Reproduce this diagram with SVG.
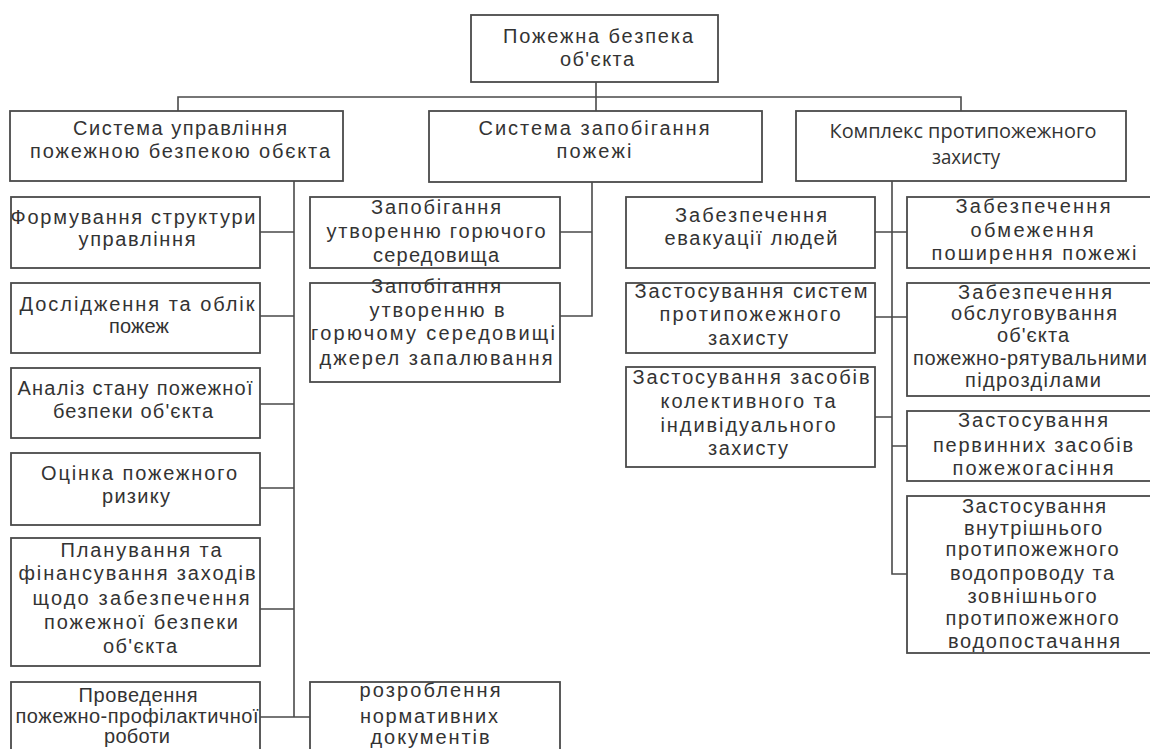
<svg xmlns="http://www.w3.org/2000/svg" width="1150" height="749" viewBox="0 0 1150 749">
  <style>
    .box { fill: #ffffff; stroke: #4a4a4a; stroke-width: 1.8; }
    .wire { fill: none; stroke: #4a4a4a; stroke-width: 1.6; }
    .t { font-family: "Liberation Sans", Arial, sans-serif; font-size: 20px; fill: #333333; text-anchor: middle; }
    .c { font-family: "Open Sans", "Liberation Sans", sans-serif; font-size: 20px; fill: #333333; text-anchor: middle; }
  </style>
  <rect width="1150" height="749" fill="#ffffff"/>

  <!-- connectors -->
  <g id="connectors" class="wire">
    <path d="M596 82 V111"/>
    <path d="M178 111 V97 H961 V111"/>
    <!-- management branch -->
    <path d="M294 181 V717"/>
    <path d="M260 232 H294 M260 316 H294 M260 404 H294 M260 488 H294 M260 609 H294 M260 717 H310"/>
    <!-- prevention branch -->
    <path d="M592 182 V316 H560 M560 232 H592"/>
    <!-- protection branch -->
    <path d="M892 181 V574 H907"/>
    <path d="M875 232 H907 M875 317 H907 M875 417 H892 M892 446 H907"/>
  </g>

  <g id="root">
    <rect class="box" x="471" y="15" width="247" height="67"/>
    <text class="t" x="598" y="43" textLength="190" lengthAdjust="spacing">Пожежна безпека</text>
    <text class="t" x="597" y="66" textLength="74" lengthAdjust="spacing">об'єкта</text>
  </g>

  <g id="management">
    <rect class="box" x="10" y="111" width="333" height="70"/>
    <text class="t" x="180" y="135" textLength="214" lengthAdjust="spacing">Система управління</text>
    <text class="t" x="180" y="158" textLength="300" lengthAdjust="spacing">пожежною безпекою обєкта</text>
  </g>

  <g id="prevention">
    <rect class="box" x="429" y="111" width="333" height="71"/>
    <text class="t" x="594" y="135" textLength="231" lengthAdjust="spacing">Система запобігання</text>
    <text class="t" x="594" y="158" textLength="75" lengthAdjust="spacing">пожежі</text>
  </g>

  <g id="protection">
    <rect class="box" x="796" y="111" width="330" height="70"/>
    <text class="c" x="963" y="138" textLength="267" lengthAdjust="spacingAndGlyphs">Комплекс протипожежного</text>
    <text class="c" x="966" y="164" textLength="68" lengthAdjust="spacingAndGlyphs">захисту</text>
  </g>

  <!-- management items -->
  <g id="m-structure">
    <rect class="box" x="11" y="197" width="249" height="71"/>
    <text class="t" x="133" y="224" textLength="245" lengthAdjust="spacing">Формування структури</text>
    <text class="t" x="137" y="246" textLength="117" lengthAdjust="spacing">управління</text>
  </g>
  <g id="m-research">
    <rect class="box" x="11" y="283" width="249" height="70"/>
    <text class="t" x="137" y="311" textLength="235" lengthAdjust="spacing">Дослідження та облік</text>
    <text class="t" x="139" y="333" textLength="60" lengthAdjust="spacing">пожеж</text>
  </g>
  <g id="m-analysis">
    <rect class="box" x="11" y="368" width="249" height="70"/>
    <text class="t" x="135" y="395" textLength="235" lengthAdjust="spacing">Аналіз стану пожежної</text>
    <text class="t" x="133" y="418" textLength="160" lengthAdjust="spacing">безпеки об'єкта</text>
  </g>
  <g id="m-risk">
    <rect class="box" x="11" y="453" width="249" height="72"/>
    <text class="t" x="139" y="480" textLength="196" lengthAdjust="spacing">Оцінка пожежного</text>
    <text class="t" x="136" y="503" textLength="68" lengthAdjust="spacing">ризику</text>
  </g>
  <g id="m-planning">
    <rect class="box" x="11" y="538" width="249" height="128"/>
    <text class="t" x="141" y="557" textLength="161" lengthAdjust="spacing">Планування та</text>
    <text class="t" x="137" y="580" textLength="237" lengthAdjust="spacing">фінансування заходів</text>
    <text class="t" x="141" y="605" textLength="217" lengthAdjust="spacing">щодо забезпечення</text>
    <text class="t" x="141" y="629" textLength="194" lengthAdjust="spacing">пожежної безпеки</text>
    <text class="t" x="140" y="653" textLength="74" lengthAdjust="spacing">об'єкта</text>
  </g>
  <g id="m-prophylaxis">
    <rect class="box" x="11" y="682" width="249" height="80"/>
    <text class="t" x="138" y="702" textLength="119" lengthAdjust="spacing">Проведення</text>
    <text class="t" x="137" y="723" textLength="243" lengthAdjust="spacing">пожежно-профілактичної</text>
    <text class="t" x="137" y="743" textLength="66" lengthAdjust="spacing">роботи</text>
  </g>
  <g id="m-documents">
    <rect class="box" x="310" y="682" width="250" height="80"/>
    <text class="t" x="430" y="697" textLength="141" lengthAdjust="spacing">розроблення</text>
    <text class="t" x="429" y="723" textLength="138" lengthAdjust="spacing">нормативних</text>
    <text class="t" x="430" y="744" textLength="119" lengthAdjust="spacing">документів</text>
  </g>

  <!-- prevention items -->
  <g id="p-medium">
    <rect class="box" x="310" y="197" width="250" height="71"/>
    <text class="t" x="436" y="214" textLength="130" lengthAdjust="spacing">Запобігання</text>
    <text class="t" x="436" y="238" textLength="219" lengthAdjust="spacing">утворенню горючого</text>
    <text class="t" x="436" y="262" textLength="126" lengthAdjust="spacing">середовища</text>
  </g>
  <g id="p-ignition">
    <rect class="box" x="310" y="283" width="250" height="99"/>
    <text class="t" x="436" y="293" textLength="130" lengthAdjust="spacing">Запобігання</text>
    <text class="t" x="437" y="317" textLength="135" lengthAdjust="spacing">утворенню в</text>
    <text class="t" x="433" y="340" textLength="244" lengthAdjust="spacing">горючому середовищі</text>
    <text class="t" x="436" y="365" textLength="233" lengthAdjust="spacing">джерел запалювання</text>
  </g>

  <!-- protection items, inner column -->
  <g id="x-evacuation">
    <rect class="box" x="626" y="197" width="249" height="71"/>
    <text class="t" x="751" y="222" textLength="152" lengthAdjust="spacing">Забезпечення</text>
    <text class="t" x="751" y="245" textLength="173" lengthAdjust="spacing">евакуації людей</text>
  </g>
  <g id="x-systems">
    <rect class="box" x="626" y="283" width="249" height="70"/>
    <text class="t" x="751" y="298" textLength="233" lengthAdjust="spacing">Застосування систем</text>
    <text class="t" x="750" y="321" textLength="181" lengthAdjust="spacing">протипожежного</text>
    <text class="t" x="748" y="345" textLength="80" lengthAdjust="spacing">захисту</text>
  </g>
  <g id="x-means">
    <rect class="box" x="626" y="367" width="249" height="100"/>
    <text class="t" x="751" y="384" textLength="237" lengthAdjust="spacing">Застосування засобів</text>
    <text class="t" x="748" y="408" textLength="175" lengthAdjust="spacing">колективного та</text>
    <text class="t" x="748" y="432" textLength="175" lengthAdjust="spacing">індивідуального</text>
    <text class="t" x="748" y="455" textLength="80" lengthAdjust="spacing">захисту</text>
  </g>

  <!-- protection items, outer column -->
  <g id="x-spread">
    <rect class="box" x="907" y="197" width="260" height="71"/>
    <text class="t" x="1033" y="213" textLength="155" lengthAdjust="spacing">Забезпечення</text>
    <text class="t" x="1032" y="237" textLength="123" lengthAdjust="spacing">обмеження</text>
    <text class="t" x="1034" y="260" textLength="205" lengthAdjust="spacing">поширення пожежі</text>
  </g>
  <g id="x-rescue">
    <rect class="box" x="907" y="283" width="260" height="113"/>
    <text class="t" x="1035" y="299" textLength="154" lengthAdjust="spacing">Забезпечення</text>
    <text class="t" x="1034" y="320" textLength="166" lengthAdjust="spacing">обслуговування</text>
    <text class="t" x="1033" y="342" textLength="72" lengthAdjust="spacing">об'єкта</text>
    <text class="t" x="1030" y="365" textLength="234" lengthAdjust="spacing">пожежно-рятувальними</text>
    <text class="t" x="1033" y="387" textLength="136" lengthAdjust="spacing">підрозділами</text>
  </g>
  <g id="x-primary">
    <rect class="box" x="907" y="411" width="260" height="70"/>
    <text class="t" x="1033" y="427" textLength="150" lengthAdjust="spacing">Застосування</text>
    <text class="t" x="1033" y="452" textLength="200" lengthAdjust="spacing">первинних засобів</text>
    <text class="t" x="1033" y="475" textLength="161" lengthAdjust="spacing">пожежогасіння</text>
  </g>
  <g id="x-water">
    <rect class="box" x="907" y="496" width="260" height="157"/>
    <text class="t" x="1034" y="513" textLength="144" lengthAdjust="spacing">Застосування</text>
    <text class="t" x="1033" y="535" textLength="138" lengthAdjust="spacing">внутрішнього</text>
    <text class="t" x="1032" y="556" textLength="173" lengthAdjust="spacing">протипожежного</text>
    <text class="t" x="1032" y="580" textLength="164" lengthAdjust="spacing">водопроводу та</text>
    <text class="t" x="1032" y="603" textLength="129" lengthAdjust="spacing">зовнішнього</text>
    <text class="t" x="1032" y="625" textLength="173" lengthAdjust="spacing">протипожежного</text>
    <text class="t" x="1034" y="648" textLength="172" lengthAdjust="spacing">водопостачання</text>
  </g>
</svg>
